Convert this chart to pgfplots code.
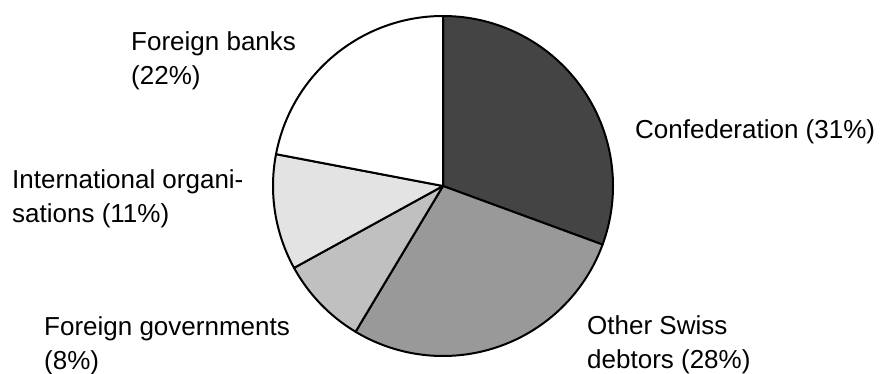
\documentclass[border=0pt]{standalone}
\usepackage{pgfplots}
\usepackage{pgfplotstable}
\pgfplotsset{compat=1.18}
\usepackage{fontspec}
\setmainfont{Liberation Sans}
\definecolor{cConf}{HTML}{444444}
\definecolor{cOther}{HTML}{999999}
\definecolor{cGov}{HTML}{C0C0C0}
\definecolor{cIntl}{HTML}{E3E3E3}
\definecolor{cBank}{HTML}{FFFFFF}
% shares (percent); clockwise from 12 o'clock
\pgfplotstableread{
share
30.6
28.0
8.4
11.0
22.0
}\piedata
\begin{document}
\begin{tikzpicture}
\useasboundingbox (0,0) rectangle (885pt,374pt);
\pgfplotstablegetelem{0}{share}\of\piedata\pgfmathsetmacro\aA{90-3.6*\pgfplotsretval}%
\pgfplotstablegetelem{1}{share}\of\piedata\pgfmathsetmacro\aB{\aA-3.6*\pgfplotsretval}%
\pgfplotstablegetelem{2}{share}\of\piedata\pgfmathsetmacro\aC{\aB-3.6*\pgfplotsretval}%
\pgfplotstablegetelem{3}{share}\of\piedata\pgfmathsetmacro\aD{\aC-3.6*\pgfplotsretval}%
\pgfplotstablegetelem{4}{share}\of\piedata\pgfmathsetmacro\aE{\aD-3.6*\pgfplotsretval}%
\begin{axis}[
  x=1pt, y=1pt, xmin=0, xmax=885, ymin=0, ymax=374,
  hide axis, clip=false, at={(0,0)}, anchor=south west,
]
\tikzset{wedge/.style={draw=black, line width=2pt, line join=round}}
\filldraw[wedge, fill=cConf]  (axis cs:443,188) -- +(90:170pt)  arc[start angle=90,  end angle=\aA, radius=170pt] -- cycle;
\filldraw[wedge, fill=cOther] (axis cs:443,188) -- +(\aA:170pt) arc[start angle=\aA, end angle=\aB, radius=170pt] -- cycle;
\filldraw[wedge, fill=cGov]   (axis cs:443,188) -- +(\aB:170pt) arc[start angle=\aB, end angle=\aC, radius=170pt] -- cycle;
\filldraw[wedge, fill=cIntl]  (axis cs:443,188) -- +(\aC:170pt) arc[start angle=\aC, end angle=\aD, radius=170pt] -- cycle;
\filldraw[wedge, fill=cBank]  (axis cs:443,188) -- +(\aD:170pt) arc[start angle=\aD, end angle=\aE, radius=170pt] -- cycle;
\tikzset{lab/.style={anchor=base west, inner sep=0pt, font=\fontsize{26}{34}\selectfont}}
\node[lab] at (axis cs:131,323) {Foreign banks};
\node[lab] at (axis cs:131,289) {(22\%)};
\node[lab] at (axis cs:12,185) {International organi-};
\node[lab] at (axis cs:12,151) {sations (11\%)};
\node[lab] at (axis cs:44,38) {Foreign governments};
\node[lab] at (axis cs:44,4) {(8\%)};
\node[lab] at (axis cs:635,235) {Confederation (31\%)};
\node[lab] at (axis cs:587,39) {Other Swiss};
\node[lab] at (axis cs:587,5) {debtors (28\%)};
\end{axis}
\end{tikzpicture}
\end{document}
